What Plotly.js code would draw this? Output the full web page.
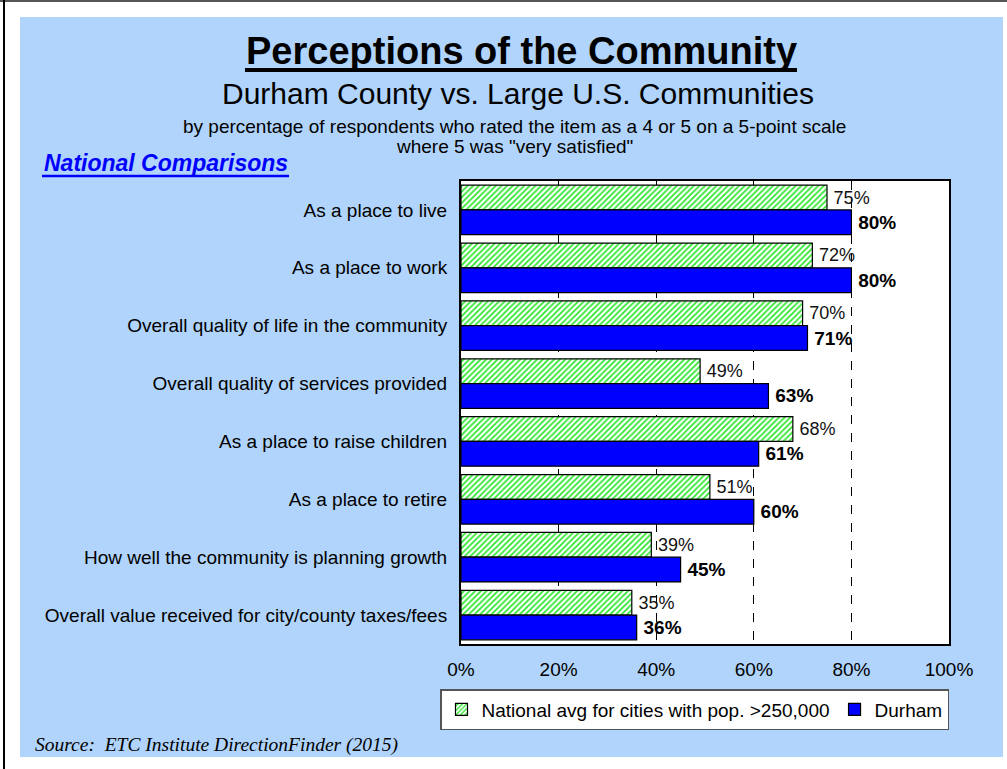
<!DOCTYPE html>
<html>
<head>
<meta charset="utf-8">
<script src="https://cdn.plot.ly/plotly-3.0.1.min.js"></script>
<style>
html,body{margin:0;padding:0;background:#fff;}
#chart{width:1007px;height:769px;}
</style>
</head>
<body>
<div id="chart"></div>
<script>
const categories = [
  "As a place to live",
  "As a place to work",
  "Overall quality of life in the community",
  "Overall quality of services provided",
  "As a place to raise children",
  "As a place to retire",
  "How well the community is planning growth",
  "Overall value received for city/county taxes/fees"
];
const nationalValues = [75, 72, 70, 49, 68, 51, 39, 35];
const durhamValues   = [80, 80, 71, 63, 61, 60, 45, 36];
const seriesNames = ["National avg for cities with pop. >250,000", "Durham"];
const xTickVals = [0, 20, 40, 60, 80, 100];
const xTickText = ["0%", "20%", "40%", "60%", "80%", "100%"];

// plot area in pixels
const PL = 461, PR = 949, PT = 181, PB = 644;
const xp = px => (px - PL) / (PR - PL);
const yp = py => (PB - py) / (PB - PT);

const FONT = "Liberation Sans, Arial, sans-serif";

const traces = [
  {
    type: "bar", orientation: "h", name: seriesNames[0],
    y: categories, x: nationalValues,
    marker: {
      color: "white",
      line: {color: "#000", width: 1.2},
      pattern: {shape: "/", fgcolor: "#2EE62E", bgcolor: "white", size: 4, solidity: 0.45}
    },
    text: nationalValues.map(v => "\u2009" + v + "%"),
    texttemplate: "%{text}",
    textposition: "outside",
    textfont: {family: FONT, size: 18, color: "#111"},
    cliponaxis: false,
    hoverinfo: "skip"
  },
  {
    type: "bar", orientation: "h", name: seriesNames[1],
    y: categories, x: durhamValues,
    marker: {color: "#0000FF", line: {color: "#000", width: 1.2}},
    text: durhamValues.map(v => "\u2009<b>" + v + "%</b>"),
    texttemplate: "%{text}",
    textposition: "outside",
    textfont: {family: FONT, size: 19, color: "#000"},
    cliponaxis: false,
    hoverinfo: "skip"
  }
];

const layout = {
  width: 1007, height: 769,
  margin: {l: PL, r: 1007 - PR, t: PT, b: 769 - PB, pad: 0},
  paper_bgcolor: "white",
  plot_bgcolor: "white",
  barmode: "group",
  bargap: 0.145,
  bargroupgap: 0,
  showlegend: true,
  font: {family: FONT, color: "#000"},
  xaxis: {
    range: [0, 100],
    tickvals: xTickVals, ticktext: xTickText,
    showgrid: true, gridcolor: "#000", griddash: "dash", gridwidth: 1,
    zeroline: false,
    showline: true, mirror: true, linecolor: "#000", linewidth: 2,
    ticks: "", tickfont: {family: FONT, size: 19, color: "#000"},
    ticklabelstandoff: 7,
    fixedrange: true
  },
  yaxis: {
    type: "category",
    autorange: "reversed",
    showgrid: false, zeroline: false,
    showline: true, mirror: true, linecolor: "#000", linewidth: 2,
    ticks: "", tickfont: {family: FONT, size: 19, color: "#000"},
    ticklabelstandoff: 8,
    fixedrange: true
  },
  legend: {
    orientation: "h",
    x: xp(440), y: yp(689), xanchor: "left", yanchor: "top",
    bgcolor: "white", bordercolor: "#555", borderwidth: 1.5,
    font: {family: FONT, size: 19, color: "#000"},
    traceorder: "normal",
    itemwidth: 30
  },
  shapes: [
    {type: "rect", xref: "paper", yref: "paper", layer: "below",
     x0: xp(20), x1: xp(1003), y0: yp(757), y1: yp(17),
     fillcolor: "#B0D4FB", line: {width: 0}},
    {type: "rect", xref: "paper", yref: "paper", layer: "below",
     x0: 0, x1: 1, y0: 0, y1: 1,
     fillcolor: "white", line: {width: 0}},
    {type: "line", xref: "paper", yref: "paper",
     x0: xp(0), x1: xp(1007), y0: yp(1), y1: yp(1),
     line: {color: "#555", width: 2}},
    {type: "line", xref: "paper", yref: "paper",
     x0: xp(4), x1: xp(4), y0: yp(0), y1: yp(769),
     line: {color: "#000", width: 2}},
    // title underline
    {type: "line", xref: "paper", yref: "paper",
     x0: xp(245), x1: xp(797), y0: yp(70), y1: yp(70),
     line: {color: "#000", width: 4}},
    // "National Comparisons" underline
    {type: "line", xref: "paper", yref: "paper",
     x0: xp(42), x1: xp(289), y0: yp(176), y1: yp(176),
     line: {color: "#0000FF", width: 2.5}}
  ],
  annotations: [
    {xref: "paper", yref: "paper", x: xp(521), y: yp(51), xanchor: "center", yanchor: "middle",
     text: "<b>Perceptions of the Community</b>", showarrow: false,
     font: {family: FONT, size: 38, color: "#000"}},
    {xref: "paper", yref: "paper", x: xp(518), y: yp(93), xanchor: "center", yanchor: "middle",
     text: "Durham County vs. Large U.S. Communities", showarrow: false,
     font: {family: FONT, size: 30, color: "#000"}},
    {xref: "paper", yref: "paper", x: xp(514), y: yp(126), xanchor: "center", yanchor: "middle",
     text: "by percentage of respondents who rated the item as a 4 or 5 on a 5-point scale", showarrow: false,
     font: {family: FONT, size: 19, color: "#000"}},
    {xref: "paper", yref: "paper", x: xp(514), y: yp(146), xanchor: "center", yanchor: "middle",
     text: "where 5 was \"very satisfied\"", showarrow: false,
     font: {family: FONT, size: 19, color: "#000"}},
    {xref: "paper", yref: "paper", x: xp(42), y: yp(163), xanchor: "left", yanchor: "middle",
     text: "<b><i>National Comparisons</i></b>", showarrow: false,
     font: {family: FONT, size: 23, color: "#0000FF"}},
    {xref: "paper", yref: "paper", x: xp(33), y: yp(745), xanchor: "left", yanchor: "middle",
     text: "<i>Source:  ETC Institute DirectionFinder (2015)</i>", showarrow: false,
     font: {family: "Liberation Serif, Times New Roman, serif", size: 19.5, color: "#000"}}
  ]
};

Plotly.newPlot("chart", traces, layout, {displayModeBar: false, staticPlot: true});
</script>
</body>
</html>
